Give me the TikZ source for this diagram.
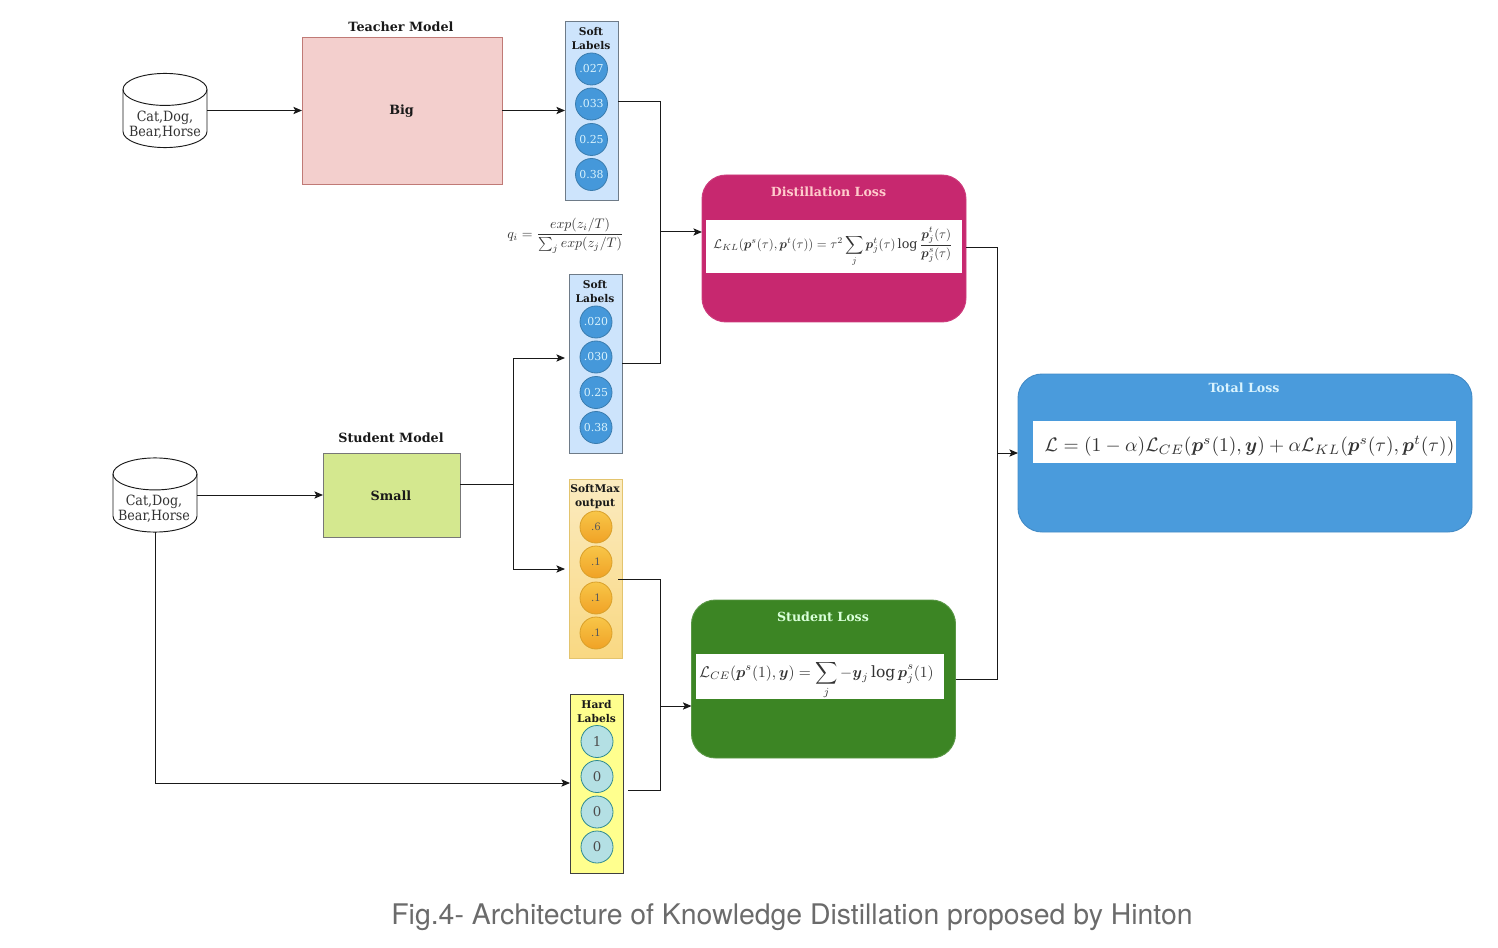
\documentclass[tikz,border=0pt]{standalone}
\usepackage{amsmath,amssymb,graphicx}
\usepackage{fontspec}
\setmainfont{DejaVu Serif}
\newfontfamily\capfont{TeX Gyre Heros}
\newfontfamily\condfont{DejaVu Serif Condensed}
\usetikzlibrary{arrows.meta}
\definecolor{softfill}{HTML}{CDE4FC}
\definecolor{softline}{HTML}{6E7B88}
\definecolor{bluecirc}{HTML}{4598DA}
\definecolor{bluestroke}{HTML}{3A7CAE}
\definecolor{pinkbox}{HTML}{C7286F}
\definecolor{greenbox}{HTML}{3C8524}
\definecolor{bluebox}{HTML}{4A9BDC}
\definecolor{teachfill}{HTML}{F3CFCD}
\definecolor{teachline}{HTML}{C07A76}
\definecolor{smallfill}{HTML}{D4E88F}
\definecolor{smallline}{HTML}{777777}
\definecolor{hardfill}{HTML}{FFFF8E}
\definecolor{hardcirc}{HTML}{B4E0E4}
\definecolor{hardstroke}{HTML}{2F8A8F}
\definecolor{captxt}{HTML}{6B6B6B}
\definecolor{maxtop}{HTML}{FBEBC0}
\definecolor{maxbot}{HTML}{F9D882}
\definecolor{maxline}{HTML}{E3C46E}
\definecolor{octop}{HTML}{F8C648}
\definecolor{ocbot}{HTML}{F0A226}
\definecolor{ocline}{HTML}{D9A02A}
\tikzset{
  sz/.style 2 args={minimum width=#1*0.75pt,minimum height=#2*0.75pt,inner sep=0pt,outer sep=0pt},
  conn/.style={draw=black!90,line width=0.75pt},
  arr/.style={conn,-{Stealth[length=6.5pt,width=5.5pt,inset=1.5pt]}},
  col/.style={sz={53}{179},draw=softline,line width=0.65pt},
  softcol/.style={col,fill=softfill},
  maxcol/.style={col,draw=maxline,top color=maxtop,bottom color=maxbot},
  hardcol/.style={col,fill=hardfill,draw=black!75},
  hdr/.style={font=\fontsize{8.0}{10.5}\selectfont\bfseries,text=black!90,align=center,inner sep=0pt},
  circ/.style={circle,minimum size=24pt,inner sep=0pt,line width=0.6pt,font=\fontsize{8.2}{10}\selectfont},
  bc/.style={circ,fill=bluecirc,draw=bluestroke,text=white!85!cyan},
  oc/.style={circ,draw=ocline,top color=octop,bottom color=ocbot,text=black!65,font=\fontsize{7.6}{10}\selectfont},
  hc/.style={circ,fill=hardcirc,draw=hardstroke,text=black!70,font=\fontsize{10}{12}\selectfont},
  db/.style={sz={84}{74}},
  dbline/.style={draw=black!90,fill=white,line width=0.7pt},
  dbt/.style={font=\condfont\fontsize{10.6}{11}\selectfont,text=black!80,align=center,inner sep=0pt},
  model/.style={font=\fontsize{9.55}{12}\selectfont\bfseries,text=black!90,inner sep=0pt},
  loss/.style={rounded corners=18pt,line width=0.7pt},
  losst/.style={font=\fontsize{9.45}{12}\selectfont\bfseries,inner sep=0pt},
  fbox/.style={fill=white,inner sep=0pt,outer sep=0pt},
  ftext/.style={inner sep=0pt,outer sep=0pt,text=black!80},
}
\newcommand{\bp}{\boldsymbol{p}}
\newcommand{\by}{\boldsymbol{y}}
\newcommand{\cyl}[1]{%
  \draw[dbline] ([yshift=15.8pt]#1.west) -- ([yshift=-15.8pt]#1.west)
    arc[start angle=180,end angle=360,x radius=31.5pt,y radius=12pt]
    -- ([yshift=15.8pt]#1.east)
    arc[start angle=0,end angle=180,x radius=31.5pt,y radius=12pt] -- cycle;
  \draw[dbline,fill=none] ([yshift=15.8pt]#1.west)
    arc[start angle=180,end angle=360,x radius=31.5pt,y radius=12pt];
}
\begin{document}
\begin{tikzpicture}[x=0.75pt,y=-0.75pt]
\useasboundingbox (0,0) rectangle (1498,948);
% inputs
\node[db] (data1) at (165,110.5) {};
\node[db] (data2) at (155,495) {};
\cyl{data1}
\cyl{data2}
\node[dbt] (data1t) at (165,124.5) {Cat,Dog,\\Bear,Horse};
\node[dbt] (data2t) at (154,509) {Cat,Dog,\\Bear,Horse};
% models
\node[sz={200}{147},fill=teachfill,draw=teachline,line width=0.65pt] (teacher) at (402,110.5) {};
\node[model] (teachert) at (401.5,111) {Big};
\node[model] (teachertitle) at (401,26.5) {Teacher Model};
\node[sz={137}{84},fill=smallfill,draw=smallline,line width=0.65pt] (small) at (391.5,495) {};
\node[model] (smallt) at (391,495.5) {Small};
\node[model] (smalltitle) at (391,437.5) {Student Model};
% column 1
\node[softcol] (soft1) at (591.5,110.5) {};
\node[hdr] (soft1h) at (591,38.5) {Soft\\Labels};
\node[bc] (s1a) at (591.5,69) {.027};
\node[bc] (s1b) at (591.5,104) {.033};
\node[bc] (s1c) at (591.5,139.5) {0.25};
\node[bc] (s1d) at (591.5,174.5) {0.38};
% column 2
\node[softcol] (soft2) at (595.5,363.5) {};
\node[hdr] (soft2h) at (595,291.5) {Soft\\Labels};
\node[bc] (s2a) at (596,322) {.020};
\node[bc] (s2b) at (596,357) {.030};
\node[bc] (s2c) at (596,392.5) {0.25};
\node[bc] (s2d) at (596,427.5) {0.38};
% softmax
\node[maxcol] (soft3) at (595.5,568.5) {};
\node[hdr] (soft3h) at (595,496.5) {SoftMax\\output};
\node[oc] (s3a) at (596,527) {.6};
\node[oc] (s3b) at (596,562) {.1};
\node[oc] (s3c) at (596,598) {.1};
\node[oc] (s3d) at (596,633) {.1};
% hard
\node[hardcol] (hard) at (596.5,784) {};
\node[hdr] (hardh) at (596.5,711.5) {Hard\\Labels};
\node[hc] (h1) at (597,741.5) {1};
\node[hc] (h2) at (597,776.5) {0};
\node[hc] (h3) at (597,812) {0};
\node[hc] (h4) at (597,847) {0};
% temperature formula
\node[ftext] (qform) at (565.5,236) {\scalebox{1.037}{$q_i=\dfrac{exp(z_i/T)}{\sum_j exp(z_j/T)}$}};
% distillation
\node[loss,sz={264}{147},fill=pinkbox,draw=pinkbox!90!white] (dist) at (834,248.5) {};
\node[losst,text=pink!80!white] (distt) at (828.5,192) {Distillation Loss};
\node[fbox,sz={256}{53}] (distb) at (834,246.5) {};
\node[ftext] (distf) at (833,246.5) {\scalebox{0.954}{$\displaystyle \mathcal{L}_{KL}(\bp^s(\tau),\bp^t(\tau))=\tau^2\sum_j \bp_j^t(\tau)\log\frac{\bp_j^t(\tau)}{\bp_j^s(\tau)}$}};
% student loss
\node[loss,sz={264}{158},fill=greenbox,draw=greenbox!85!white] (stud) at (823.5,679) {};
\node[losst,text=white!85!green] (studt) at (823,616.5) {Student Loss};
\node[fbox,sz={248}{45.5}] (studb) at (820,676.7) {};
\node[ftext] (studf) at (816.5,680) {\scalebox{1.163}{$\displaystyle \mathcal{L}_{CE}(\bp^s(1),\by)=\sum_j -\by_j\log\bp_j^s(1)$}};
% total
\node[loss,sz={454}{158},fill=bluebox,draw=bluebox!90!black] (total) at (1245,453) {};
\node[losst,text=white!85!cyan] (totalt) at (1244,388) {Total Loss};
\node[fbox,sz={423}{42}] (totalb) at (1244.5,442) {};
\node[ftext] (totalf) at (1249.5,446) {\scalebox{1.46}{$\mathcal{L}=(1-\alpha)\mathcal{L}_{CE}(\bp^s(1),\by)+\alpha\mathcal{L}_{KL}(\bp^s(\tau),\bp^t(\tau))$}};
% caption
\node[font=\capfont\fontsize{21.3}{24}\selectfont,text=captxt,inner sep=0pt] (cap) at (792,917) {Fig.4- Architecture of Knowledge Distillation proposed by Hinton};
% free ends
\coordinate (s1out) at (618,102);
\coordinate (s2out) at (622,363);
\coordinate (j1a) at (660,102);
\coordinate (j1b) at (660,363);
\coordinate (j1) at (660,232);
\coordinate (smout) at (460,484);
\coordinate (j2) at (513,484);
\coordinate (s2in) at (565,358);
\coordinate (s3in) at (565,569);
\coordinate (s3out) at (618,579);
\coordinate (hout) at (628,790);
\coordinate (j3a) at (660,579);
\coordinate (j3b) at (660,790);
\coordinate (j3) at (660,706);
\coordinate (distin) at (702,232);
\coordinate (studin) at (691.5,706);
\coordinate (j4) at (997,453);
\coordinate (distout) at (966,248);
\coordinate (hardin) at (570,783);
% connectors
\draw[arr] (data1.east |- teacher.west) -- (teacher.west);
\draw[arr] (teacher.east) -- (soft1.west);
\draw[conn] (s1out) -- (j1a) -- (j1b) -- (s2out);
\draw[arr] (j1) -- (distin);
\draw[arr] (data2.east |- small.west) -- (small.west);
\draw[conn] (smout) -- (j2);
\draw[arr] (j2) |- (s2in);
\draw[arr] (j2) |- (s3in);
\draw[arr] (data2.south) |- (hardin);
\draw[conn] (s3out) -- (j3a) -- (j3b) -- (hout);
\draw[arr] (j3) -- (studin);
\draw[conn] (distout) -| (j4);
\draw[conn] (stud.east) -| (j4);
\draw[arr] (j4) -- (total.west);
\end{tikzpicture}
\end{document}
